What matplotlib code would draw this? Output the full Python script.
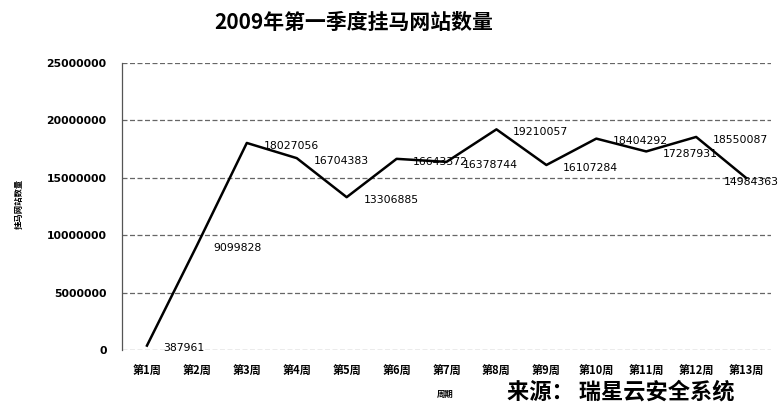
import matplotlib
matplotlib.use("Agg")
import matplotlib.pyplot as plt
from matplotlib.ticker import MultipleLocator, FuncFormatter

plt.rcParams['font.family'] = ['Noto Sans CJK SC', 'DejaVu Sans']

weeks = ["第1周", "第2周", "第3周", "第4周", "第5周", "第6周", "第7周",
         "第8周", "第9周", "第10周", "第11周", "第12周", "第13周"]
counts = [387961, 9099828, 18027056, 16704383, 13306885, 16643372, 16378744,
          19210057, 16107284, 18404292, 17287931, 18550087, 14984363]

title = "2009年第一季度挂马网站数量"
ylabel = "挂马网站数量"
xlabel = "周期"
source = "来源： 瑞星云安全系统"

fig = plt.figure(figsize=(7.82, 4.08), dpi=100)
ax = fig.add_axes([0.156, 0.142, 0.83, 0.704])

x = list(range(len(weeks)))
ax.plot(x, counts, color='black', lw=1.8, zorder=3)
for i, (xi, v) in enumerate(zip(x, counts)):
    if i < len(x) - 1:
        ax.annotate(str(v), (xi, v), xytext=(12, -2), textcoords='offset points',
                    ha='left', va='center', fontsize=7.8, color='black',
                    family='DejaVu Sans', zorder=4)
    else:
        ax.annotate(str(v), (xi, v), xytext=(4, -3), textcoords='offset points',
                    ha='center', va='center', fontsize=7.8, color='black',
                    family='DejaVu Sans', zorder=4)

ax.set_xlim(-0.5, len(weeks) - 0.5)
ax.set_ylim(0, 25000000)
ax.yaxis.set_major_locator(MultipleLocator(5000000))
ax.yaxis.set_major_formatter(FuncFormatter(lambda v, p: f"{int(v)}"))
ax.set_xticks(x)
ax.set_xticklabels(weeks, fontsize=8, fontweight='bold')
ax.tick_params(axis='y', labelsize=7.8, length=0, pad=11)
ax.tick_params(axis='x', length=0, pad=10)
for lbl in ax.get_yticklabels():
    lbl.set_family('DejaVu Sans')
    lbl.set_fontweight('bold')

ax.grid(axis='y', color='#666666', linestyle=(0, (4, 2)), lw=0.9)
ax.set_axisbelow(True)
for s in ['top', 'right', 'bottom']:
    ax.spines[s].set_visible(False)
ax.spines['left'].set_color('#555555')
ax.spines['left'].set_linestyle((0, (3, 1)))
ax.spines['left'].set_linewidth(0.9)

fig.text(0.452, 0.945, title, ha='center', va='center', fontsize=15,
         fontweight='bold')
fig.text(0.024, 0.50, ylabel, rotation=90, ha='center', va='center',
         fontsize=6, fontweight='bold')
fig.text(0.569, 0.032, xlabel, ha='center', va='center', fontsize=6,
         fontweight='bold')
fig.text(0.794, 0.04, source, ha='center', va='center', fontsize=16,
         fontweight='bold')

fig.savefig("out.png", dpi=100, facecolor='white')
